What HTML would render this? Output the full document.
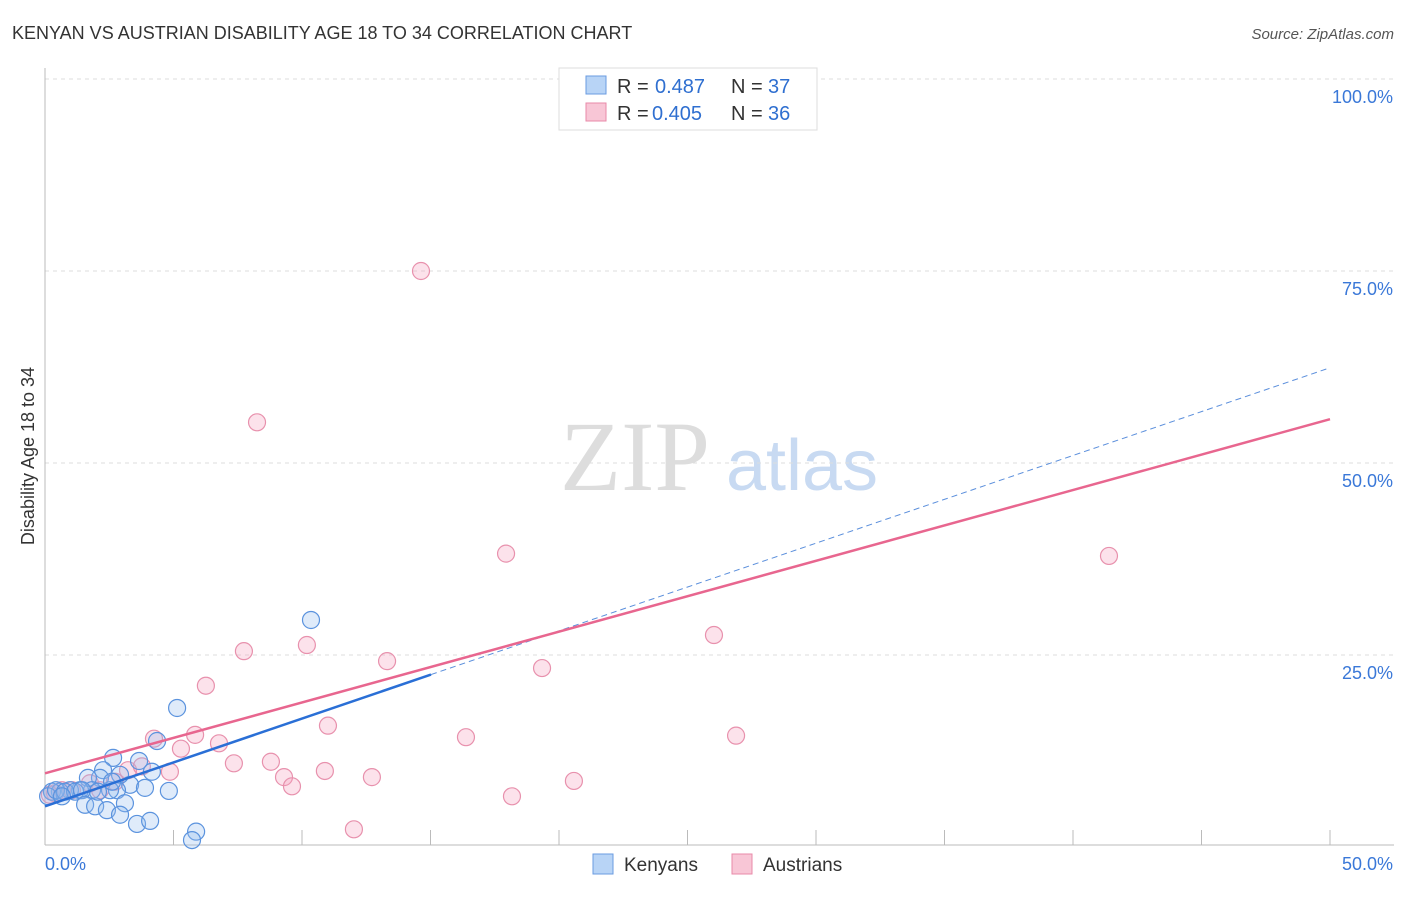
<!DOCTYPE html>
<html><head><meta charset="utf-8"><style>
body{margin:0;background:#fff;font-family:"Liberation Sans",sans-serif}
svg text{font-family:"Liberation Sans",sans-serif}
</style></head><body>
<svg id="c" width="1406" height="892">
<text x="12" y="39" font-size="18" fill="#333">KENYAN VS AUSTRIAN DISABILITY AGE 18 TO 34 CORRELATION CHART</text>
<text x="1394" y="39" font-size="15" fill="#555" text-anchor="end" font-style="italic">Source: ZipAtlas.com</text>
<text x="34" y="456" font-size="18" fill="#333" text-anchor="middle" transform="rotate(-90 34 456)">Disability Age 18 to 34</text>
<g><text x="635" y="490" font-size="100" fill="#ddd" text-anchor="middle" style="font-family:'Liberation Serif',serif">ZIP</text><text x="802" y="490" font-size="72" fill="#c8daf2" text-anchor="middle">atlas</text></g>
<g id="grid"></g><g id="pts"></g><g id="lines"></g>
<g>
<rect x="559" y="68" width="258" height="62" fill="#fff" stroke="#ddd"/>
<rect x="586" y="76" width="20" height="18" fill="#b8d4f6" stroke="#6a9be0"/>
<text x="617" y="93" font-size="20" fill="#333">R =</text>
<text x="655" y="93" font-size="20" fill="#2f6fd0">0.487</text>
<text x="731" y="93" font-size="20" fill="#333">N =</text>
<text x="768" y="93" font-size="20" fill="#2f6fd0">37</text>
<rect x="586" y="103" width="20" height="18" fill="#f8c6d6" stroke="#e88aa8"/>
<text x="617" y="120" font-size="20" fill="#333">R =</text>
<text x="652" y="120" font-size="20" fill="#2f6fd0">0.405</text>
<text x="731" y="120" font-size="20" fill="#333">N =</text>
<text x="768" y="120" font-size="20" fill="#2f6fd0">36</text>
</g>
<g>
<rect x="593" y="854" width="20" height="20" fill="#b8d4f6" stroke="#6a9be0"/>
<text x="624" y="871" font-size="19" fill="#333">Kenyans</text>
<rect x="732" y="854" width="20" height="20" fill="#f8c6d6" stroke="#e88aa8"/>
<text x="763" y="871" font-size="19" fill="#333">Austrians</text>
</g>
</svg>
<script>
const yTicks=[100,75,50,25];
const yTickLabels=["100.0%","75.0%","50.0%","25.0%"];
const blueX=[10.35,5.14,4.36,3.66,2.65,4.16,3.31,2.92,2.26,2.14,1.67,2.80,2.53,1.83,1.36,0.97,0.58,0.27,0.12,0.43,0.78,1.17,1.44,1.56,1.95,2.41,3.11,2.92,3.58,4.09,4.82,5.88,5.72,3.89,2.61,2.06,0.66];
const blueY=[29.56,18.1,13.8,11.2,11.6,9.8,8.1,9.4,10.0,9.0,9.0,7.4,7.4,7.4,7.4,7.4,7.2,7.2,6.6,7.4,7.2,7.2,7.4,5.5,5.3,4.8,5.7,4.2,3.0,3.4,7.3,2.0,0.9,7.7,8.5,7.2,6.6];
const pinkX=[14.63,8.25,17.94,41.40,26.03,10.19,7.74,13.31,19.34,6.26,11.01,4.24,5.84,5.29,6.77,16.38,26.89,7.35,8.79,4.86,3.23,3.77,10.89,9.30,9.61,12.72,20.58,18.17,12.02,2.72,1.75,0.66,0.39,0.19,1.05,2.14];
const pinkY=[75.0,55.3,38.2,37.9,27.6,26.3,25.5,24.2,23.3,21.0,15.8,14.1,14.6,12.8,13.5,14.3,14.5,10.9,11.1,9.8,10.0,10.5,9.9,9.1,7.9,9.1,8.6,6.6,2.3,8.5,8.3,7.4,7.0,6.8,7.4,7.4];
const blueFit=[5.3,62.4];
const pinkFit=[9.6,55.7];
const blueSolidEnd=15.02;
const NS='http://www.w3.org/2000/svg';
const sx=v=>45+v/50*1285, sy=v=>847-v/100*768;
function mk(t,a,p){const e=document.createElementNS(NS,t);for(const k in a)e.setAttribute(k,a[k]);p.appendChild(e);return e;}
const g=document.getElementById('grid');
yTicks.forEach((t,i)=>{
 const l=mk('line',{x1:45,x2:1394,y1:sy(t),y2:sy(t),stroke:'#ddd','stroke-dasharray':'4,4'},g);
 
 
 const tx=mk('text',{x:1393,y:sy(t)+24,'font-size':18,fill:'#3a78d8','text-anchor':'end'},g);
 tx.textContent=yTickLabels[i];
 
 
});
mk('line',{x1:45,x2:45,y1:68,y2:845,stroke:'#bbb'},g);
mk('line',{x1:45,x2:1394,y1:845,y2:845,stroke:'#bbb'},g);
for(let i=1;i<=10;i++){const t=mk('line',{x1:sx(i*5),x2:sx(i*5),y1:830,y2:845,stroke:'#bbb'},g);}
const x0=mk('text',{x:45,y:870,'font-size':18,fill:'#3a78d8'},g);x0.textContent='0.0%';

const x1=mk('text',{x:1393,y:870,'font-size':18,fill:'#3a78d8','text-anchor':'end'},g);x1.textContent='50.0%';

const p=document.getElementById('pts');
pinkX.forEach((x,i)=>{const c=mk('circle',{cx:sx(x),cy:sy(pinkY[i]),r:8.5,fill:'rgba(244,160,188,0.3)',stroke:'#e891ad','stroke-width':1.2},p);
 });
blueX.forEach((x,i)=>{const c=mk('circle',{cx:sx(x),cy:sy(blueY[i]),r:8.5,fill:'rgba(150,190,240,0.3)',stroke:'#5b93de','stroke-width':1.2},p);
 });
const L=document.getElementById('lines');
const bAt=x=>blueFit[0]+(blueFit[1]-blueFit[0])*x/50;
let d=mk('line',{x1:sx(blueSolidEnd),y1:sy(bAt(blueSolidEnd)),x2:sx(50),y2:sy(blueFit[1]),stroke:'#5b8fdc','stroke-width':1,'stroke-dasharray':'6,4'},L);

d=mk('line',{x1:sx(0),y1:sy(pinkFit[0]),x2:sx(50),y2:sy(pinkFit[1]),stroke:'#e8668f','stroke-width':2.5},L);

d=mk('line',{x1:sx(0),y1:sy(blueFit[0]),x2:sx(blueSolidEnd),y2:sy(bAt(blueSolidEnd)),stroke:'#2a6fd6','stroke-width':2.5},L);

</script>
</body></html>
